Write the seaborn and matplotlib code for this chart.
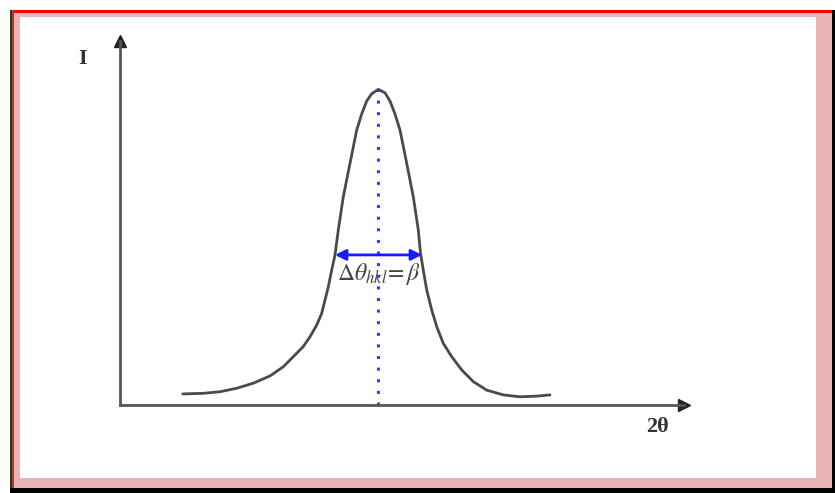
import matplotlib
matplotlib.use("Agg")
import matplotlib.pyplot as plt
from matplotlib.patches import Rectangle
import seaborn as sns

# Peak profile (2theta in arbitrary units, intensity in % of max)
two_theta = [6.27, 8.33, 10.0, 11.67, 13.33, 15.0, 16.33, 17.33, 18.33, 19.0, 19.67, 20.17,
             20.5, 20.83, 21.17, 21.5, 21.83, 22.33, 23.0, 23.67, 24.17, 24.67, 25.17, 25.83,
             26.5, 27.0, 27.5, 28.0, 28.67, 29.33, 29.83, 30.05, 30.33, 30.67, 31.17, 31.67,
             32.33, 33.17, 34.17, 35.33, 36.67, 38.33, 40.0, 41.67, 43.0]
intensity = [3.5, 3.7, 4.2, 5.3, 6.9, 9.2, 12.1, 15.3, 18.5, 21.6, 25.3, 29.0,
             33.2, 37.4, 42.7, 47.5, 55.4, 65.9, 76.5, 87.0, 92.1, 96.2, 98.5, 99.9,
             98.8, 96.2, 92.1, 87.0, 76.5, 65.9, 55.4, 48.0, 42.7, 36.4, 30.1, 24.8,
             19.5, 15.3, 11.1, 7.4, 4.7, 3.2, 2.6, 2.8, 3.2]

# peak position and full width at half maximum marker
peak_pos = 25.8
peak_max = 100.0
fwhm_left = 21.5
fwhm_right = 30.2
fwhm_level = 47.5
fwhm_label = r'$\Delta\theta_{hkl}\!=\beta$'

sns.set_style("white")
plt.rcParams['mathtext.fontset'] = 'stix'
plt.rcParams['font.family'] = ['Liberation Serif', 'DejaVu Serif']

fig = plt.figure(figsize=(8.35, 4.93), dpi=100)

# picture frame: red top line, pink band, dark right/bottom edges
frame = [
    ((10, 0), 825, 483, '#e8b4b4'),
    ((20, 15), 796, 461, 'white'),
    ((10, 480), 825, 3, 'red'),
    ((10, 0), 2, 483, '#2f3a10'),
    ((12, 0), 2, 483, '#c03030'),
    ((832, 0), 3, 483, 'black'),
    ((10, 0), 825, 5, 'black'),
]
for (x0, y0), w, h, c in frame:
    fig.patches.append(Rectangle((x0/835, y0/493), w/835, h/493, transform=fig.transFigure,
                                 facecolor=c, edgecolor='none', zorder=-5))

ax = fig.add_axes([120/835, 88/493, 564/835, 364/493])
ax.patch.set_visible(False)
ax.set_zorder(2)

sns.lineplot(x=two_theta, y=intensity, ax=ax, color='#4a4a4a', linewidth=2,
             sort=False, estimator=None)

# dotted line through the peak maximum
ax.plot([peak_pos, peak_pos], [0, peak_max], color='#3a3aff', linestyle=(0, (1, 2.8)),
        linewidth=2.2)

# FWHM double arrow
ax.annotate('', xy=(fwhm_left, fwhm_level), xytext=(fwhm_right, fwhm_level),
            arrowprops=dict(arrowstyle='<|-|>', color='#1a1aff', lw=2,
                            mutation_scale=16, shrinkA=0, shrinkB=0))
ax.text((fwhm_left + fwhm_right) / 2 + 0.1, fwhm_level - 2.0, fwhm_label, ha='center', va='top',
        fontsize=17, color='#444444')

ax.set_xlim(0, 56.4)
ax.set_ylim(0, 115.2)
ax.set_xticks([])
ax.set_yticks([])
sns.despine(ax=ax)
for side in ['left', 'bottom']:
    ax.spines[side].set_color('#555555')
    ax.spines[side].set_linewidth(2)

# arrow heads on the axes
ax.plot(1, 0, marker='>', color='#222222', markersize=9, transform=ax.transAxes, clip_on=False)
ax.plot(0, 1, marker='^', color='#222222', markersize=9, transform=ax.transAxes, clip_on=False)

ax.text(-3.7, 109.5, 'I', fontsize=16, fontweight='bold', color='#333333', ha='center', va='center')
ax.text(53.7, -7, '2θ', fontsize=16, fontweight='bold', color='#333333', ha='center', va='center')

fig.savefig('out.png', dpi=100)
